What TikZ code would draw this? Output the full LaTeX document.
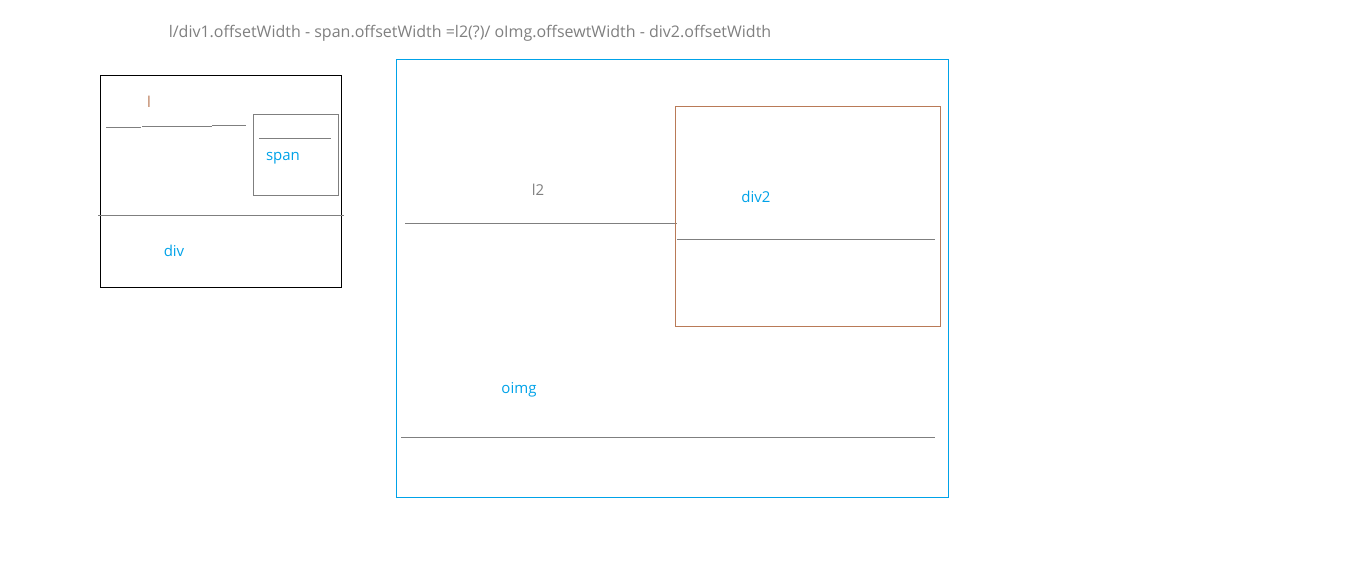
\documentclass[tikz,border=0pt]{standalone}
\usepackage{fontspec}
\setmainfont{Open Sans}
\usepackage{tikz}
\usetikzlibrary{calc}
\definecolor{skyblue}{HTML}{00A2E8}
\definecolor{rust}{HTML}{B97A57}
\definecolor{midgray}{HTML}{7F7F7F}

\begin{document}
\begin{tikzpicture}[x=1pt, y=-1pt,
    gline/.style={midgray, line width=1pt},
    lbl/.style={inner sep=0pt, font=\fontsize{15}{18}\selectfont},
    bluelbl/.style={lbl, text=skyblue}]
      \useasboundingbox (0, 0) rectangle (1360, 586);
      % formula on top
      \node[lbl, text=midgray, font=\fontsize{16}{19}\selectfont] (formula) at (470, 33) {l/div1.offsetWidth - span.offsetWidth =l2(?)/ oImg.offsewtWidth - div2.offsetWidth};
      % left part: div1
      \draw[black, line width=1pt] (100, 76) rectangle (341, 287);
      \node[lbl, text=rust] (l) at (149, 102) {l};
      \draw[gline] (106, 127) -- (141, 127);
      \draw[gline] (142, 126) -- (212, 126);
      \draw[gline] (212, 125) -- (246, 125);
      \draw[gline] (253, 114) rectangle (338, 195);
      \draw[gline] (259, 138) -- (331, 138);
      \node[bluelbl] (span) at (283, 158) {span};
      \draw[gline] (98, 215) -- (344, 215);
      \node[bluelbl] (div) at (174, 251) {div};
      % right part: oimg with div2
      \draw[skyblue, line width=1pt] (396, 60) rectangle (948, 497);
      \node[lbl, text=midgray] (l2) at (538, 190) {l2};
      \draw[gline] (405, 223) -- (677, 223);
      \draw[rust, line width=1pt] (675, 106) rectangle (940, 326);
      \node[bluelbl] (div2) at (756, 197) {div2};
      \draw[gline] (677, 239) -- (935, 239);
      \node[bluelbl] (oimg) at (519, 390) {oimg};
      \draw[gline] (401, 437) -- (935, 437);
\end{tikzpicture}
\end{document}
